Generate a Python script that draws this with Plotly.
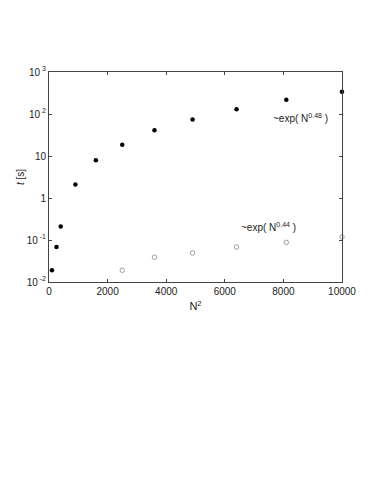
import plotly.graph_objects as go

# data
n2_full = [100, 256, 400, 900, 1600, 2500, 3600, 4900, 6400, 8100, 10000]
t_full = [0.019, 0.068, 0.21, 2.1, 7.9, 18.6, 41, 74, 129, 218, 340]

n2_open = [2500, 3600, 4900, 6400, 8100, 10000]
t_open = [0.019, 0.039, 0.049, 0.068, 0.088, 0.118]

ytick_vals = [0.01, 0.1, 1, 10, 100, 1000]
ytick_text = ["10<sup> -2</sup>", "10<sup> -1</sup>", "1", "10", "10<sup> 2</sup>", "10<sup> 3</sup>"]
xtick_vals = [0, 2000, 4000, 6000, 8000, 10000]
xtick_text = ["0", "2000", "4000", "6000", "8000", "10000"]

fig = go.Figure()
fig.add_scatter(x=n2_full, y=t_full, mode="markers",
                marker=dict(color="black", size=4.5), cliponaxis=False)
fig.add_scatter(x=n2_open, y=t_open, mode="markers",
                marker=dict(color="#888", size=4.5, symbol="circle-open",
                            line=dict(width=0.8)), cliponaxis=False)

fig.add_annotation(x=8600, y=1.9, text="~exp( N<sup>0.48</sup> )", showarrow=False,
                   xanchor="center", yanchor="middle", font=dict(size=10, color="#222"))
fig.add_annotation(x=7500, y=-0.69, text="~exp( N<sup>0.44</sup> )", showarrow=False,
                   xanchor="center", yanchor="middle", font=dict(size=10, color="#222"))

axis_common = dict(showline=True, linecolor="#444", linewidth=1, mirror="ticks",
                   ticks="inside", ticklen=3, tickcolor="#444", showgrid=False,
                   zeroline=False, automargin=False, tickfont=dict(size=10, color="#222"))

fig.update_xaxes(range=[0, 10000], tickvals=xtick_vals, ticktext=xtick_text,
                 title=dict(text="N<sup>2</sup>", font=dict(size=11), standoff=6),
                 **axis_common)
fig.update_yaxes(type="log", range=[-2, 3], tickvals=ytick_vals, ticktext=ytick_text,
                 title=dict(text="<i>t</i> [s]", font=dict(size=10), standoff=0),
                 **axis_common)

# page body adds ~8px offset, so shift the plot area back
fig.update_layout(width=388, height=502, showlegend=False,
                  margin=dict(l=41, r=54, t=64, b=228),
                  plot_bgcolor="white", paper_bgcolor="white",
                  font=dict(family="Liberation Sans, Arial", color="#222"))

fig.write_html("out.html")
